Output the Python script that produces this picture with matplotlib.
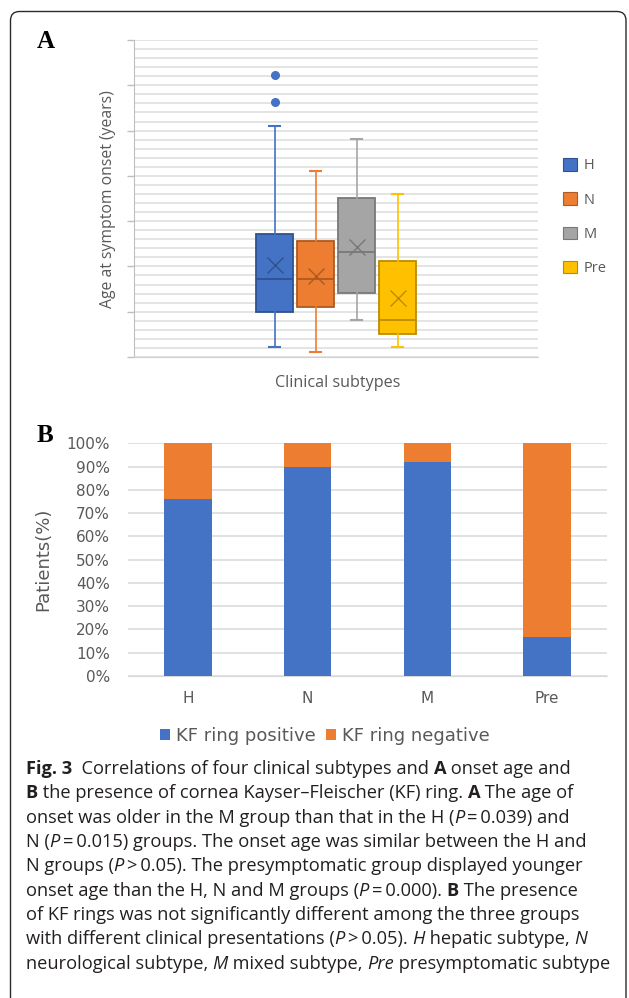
import matplotlib.pyplot as plt
from matplotlib.patches import Patch, FancyBboxPatch
from matplotlib.transforms import IdentityTransform
import numpy as np

# ---- panel A: onset age box plot (years) ----
subtypes = ['H', 'N', 'M', 'Pre']
q1 = [10.0, 11.1, 14.1, 5.1]
median = [17.2, 17.2, 23.1, 8.2]
q3 = [27.1, 25.7, 35.1, 21.1]
whisker_low = [2.1, 1.1, 8.2, 2.1]
whisker_high = [51.1, 41.1, 48.2, 36.1]
means = [20.4, 17.8, 24.4, 13.0]
outliers = [[56.2, 62.2], [], [], []]

# ---- panel B: KF ring (%) ----
kf_positive = [76.0, 90.0, 92.0, 16.7]
kf_negative = [24.0, 10.0, 8.0, 83.3]
pct_ticks = list(range(0, 101, 10))

box_colors = ['#4472C4', '#ED7D31', '#A5A5A5', '#FFC000']
dark_colors = ['#2F528F', '#AE5A21', '#787878', '#BC8C00']
grey_txt = '#595959'

W, H = 629, 998
fig = plt.figure(figsize=(W / 100, H / 100), dpi=100)


def fx(px):
    return px / W


def fy(py):
    return 1 - py / H


# rounded frame round the whole figure
fig.add_artist(FancyBboxPatch((10.5, -10), 615.5, H - 11.5 + 10,
                              boxstyle='round,pad=0,rounding_size=9',
                              fc='none', ec='#2b2b2b', lw=1.0,
                              transform=IdentityTransform()))

# ================= panel A =================
axA = fig.add_axes([fx(134), fy(357), (538 - 134) / W, (357 - 40) / H])
stats = []
for i in range(len(subtypes)):
    stats.append(dict(label=subtypes[i], q1=q1[i], med=median[i], q3=q3[i],
                      whislo=whisker_low[i], whishi=whisker_high[i],
                      mean=means[i], fliers=outliers[i]))
pos = np.arange(len(subtypes))
bp = axA.bxp(stats, positions=pos, widths=0.9, patch_artist=True,
             showmeans=True, showfliers=True, capwidths=0.25,
             manage_ticks=False)
for i in range(len(subtypes)):
    c, d = box_colors[i], dark_colors[i]
    bp['boxes'][i].set(facecolor=c, edgecolor=d, linewidth=1.3)
    bp['medians'][i].set(color=d, linewidth=1.3)
    bp['means'][i].set(marker='x', markeredgecolor=d, markersize=11,
                       markeredgewidth=1.0)
    for w in bp['whiskers'][2 * i:2 * i + 2]:
        w.set(color=c, linewidth=1.2)
    for cp in bp['caps'][2 * i:2 * i + 2]:
        cp.set(color=c, linewidth=1.5)
    bp['fliers'][i].set(marker='o', markerfacecolor=c, markeredgecolor=c,
                        markersize=5.5)

axA.set_xlim(1.5 - 202 / 41, 1.5 + 202 / 41)
axA.set_ylim(0, 70)
axA.set_yticks(np.arange(0, 71, 10))
axA.set_yticks(np.arange(0, 71, 2), minor=True)
axA.set_yticklabels([])
axA.set_xticks([])
axA.yaxis.grid(True, which='both', color='#dcdcdc', lw=1.1)
axA.set_axisbelow(True)
axA.tick_params(axis='y', which='major', length=5, color='#bfbfbf', width=1)
axA.tick_params(axis='y', which='minor', length=0)
for s in ['top', 'right']:
    axA.spines[s].set_visible(False)
axA.spines['left'].set_color('#bfbfbf')
axA.spines['bottom'].set_color('#d0d0d0')

fig.text(fx(108), fy(199), 'Age at symptom onset (years)', rotation=90,
         ha='center', va='center', fontsize=11.3, family='Open Sans',
         color=grey_txt)
fig.text(fx(338), fy(383), 'Clinical subtypes', ha='center', va='center',
         fontsize=11.6, family='Open Sans', color=grey_txt)

legA = [Patch(facecolor=box_colors[i], edgecolor=dark_colors[i], lw=0.8)
        for i in range(len(subtypes))]
fig.legend(legA, subtypes, loc='upper left', bbox_to_anchor=(fx(563), fy(158)),
           frameon=False, borderpad=0, borderaxespad=0, handlelength=0.95,
           handleheight=0.95, handletextpad=0.45, labelspacing=1.3,
           prop={'family': 'Open Sans', 'size': 10.5}, labelcolor=grey_txt)

fig.text(fx(37), fy(42), 'A', ha='left', va='center', fontsize=18,
         fontweight='bold', family='Liberation Serif')

# ================= panel B =================
axB = fig.add_axes([fx(128), fy(676), (607 - 128) / W, (676 - 443.3) / H])
xb = np.arange(len(subtypes))
axB.bar(xb, kf_positive, 0.395, color='#4472C4', label='KF ring positive',
        zorder=3)
axB.bar(xb, kf_negative, 0.395, bottom=kf_positive, color='#ED7D31',
        label='KF ring negative', zorder=3)
axB.set_xlim(-0.5, 3.5)
axB.set_ylim(0, 100)
axB.set_yticks(pct_ticks)
axB.set_yticklabels([f'{v}%' for v in pct_ticks])
axB.set_xticks(xb)
axB.set_xticklabels(subtypes)
axB.yaxis.grid(True, color='#d9d9d9', lw=1.1)
axB.set_axisbelow(True)
axB.tick_params(axis='y', length=0, pad=13, labelsize=11, labelcolor=grey_txt)
axB.tick_params(axis='x', length=0, pad=11, labelsize=11, labelcolor=grey_txt)
for s in ['top', 'right', 'left']:
    axB.spines[s].set_visible(False)
axB.spines['bottom'].set_color('#d9d9d9')
axB.set_ylabel('Patients(%)', fontsize=13, color=grey_txt, labelpad=10)

fig.legend(handles=[Patch(facecolor='#4472C4'), Patch(facecolor='#ED7D31')],
           labels=['KF ring positive', 'KF ring negative'], loc='center',
           bbox_to_anchor=(fx(325), fy(736)), ncol=2, frameon=False,
           fontsize=13, handlelength=0.55, handleheight=0.55,
           handletextpad=0.33, columnspacing=0.6, labelcolor=grey_txt)

fig.text(fx(37), fy(436), 'B', ha='left', va='center', fontsize=18,
         fontweight='bold', family='Liberation Serif')

# ================= caption =================
N, B, I = 'normal', 'bold', 'italic'
caption = [
    [('Fig. 3', B), ('  Correlations of four clinical subtypes and ', N), ('A', B),
     (' onset age and', N)],
    [('B', B), (' the presence of cornea Kayser\u2013Fleischer (KF) ring. ', N),
     ('A', B), (' The age of', N)],
    [('onset was older in the M group than that in the H (', N), ('P', I),
     ('\u2009=\u20090.039) and', N)],
    [('N (', N), ('P', I),
     ('\u2009=\u20090.015) groups. The onset age was similar between the H and', N)],
    [('N groups (', N), ('P', I),
     ('\u2009>\u20090.05). The presymptomatic group displayed younger', N)],
    [('onset age than the H, N and M groups (', N), ('P', I),
     ('\u2009=\u20090.000). ', N), ('B', B), (' The presence', N)],
    [('of KF rings was not significantly different among the three groups', N)],
    [('with different clinical presentations (', N), ('P', I),
     ('\u2009>\u20090.05). ', N), ('H', I), (' hepatic subtype, ', N), ('N', I)],
    [('neurological subtype, ', N), ('M', I), (' mixed subtype, ', N),
     ('Pre', I), (' presymptomatic subtype', N)],
]
cap_family = ['Open Sans', 'DejaVu Sans']
renderer = fig.canvas.get_renderer()


def seg_props(kind, size):
    return dict(fontsize=size, family=cap_family, color='#231f20',
                fontweight='bold' if kind == B else 'normal',
                fontstyle='italic' if kind == I else 'normal')


def text_width(s, props):
    t = fig.text(0, 0, '|' + s + '|', **props)
    w = t.get_window_extent(renderer).width
    t.set_text('||')
    w -= t.get_window_extent(renderer).width
    t.remove()
    return w


def line_width(line, size):
    return sum(text_width(s, seg_props(k, size)) for s, k in line)


base = 10.0
cap_size = base * (613 - 25.7) / line_width(caption[-1], base)

for j, line in enumerate(caption):
    x = 25.7
    y = 774 + j * 24.35
    for s, k in line:
        p = seg_props(k, cap_size)
        fig.text(fx(x), fy(y), s, ha='left', va='baseline', **p)
        x += text_width(s, p)

fig.savefig('out.png', dpi=100)
